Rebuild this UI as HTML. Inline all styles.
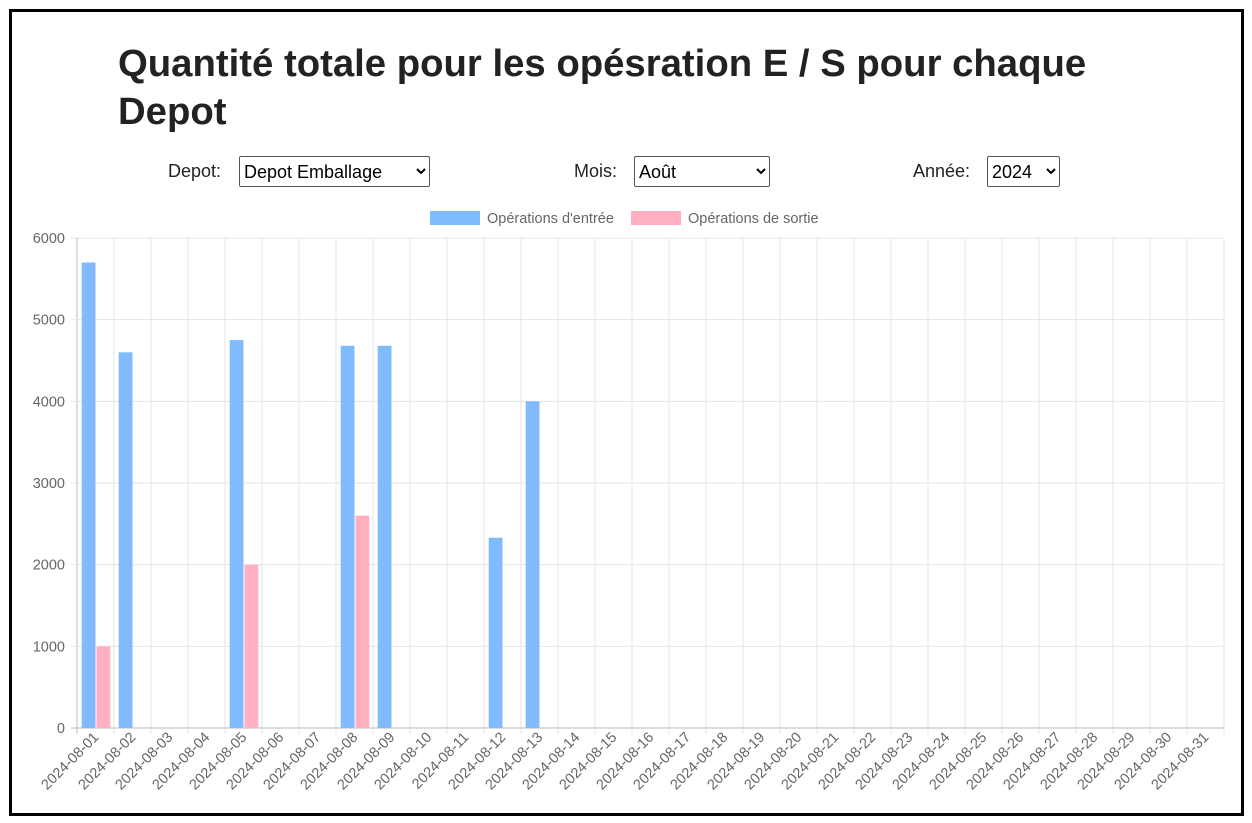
<!DOCTYPE html>
<html><head><meta charset="utf-8"><style>
body{margin:0;width:1252px;height:823px;background:#fff;font-family:"Liberation Sans",sans-serif;overflow:hidden}
#frame{position:absolute;left:9px;top:9px;width:1229px;height:801px;border:3px solid #000}
h1{position:absolute;left:118px;top:40px;margin:0;font-size:38.3px;line-height:48px;font-weight:bold;color:#222;width:1000px}
.lbl{position:absolute;font-size:18px;color:#222}
select{position:absolute;font-family:"Liberation Sans",sans-serif;font-size:18px;height:31px;border:1px solid #555;border-radius:2px;background:#fff;color:#000}
</style></head><body>
<div id="frame"></div>
<h1>Quantité totale pour les opésration E / S pour chaque Depot</h1>
<span class="lbl" style="left:168px;top:161px">Depot:</span>
<select style="left:239px;top:156px;width:191px"><option>Depot Emballage</option></select>
<span class="lbl" style="left:574px;top:161px">Mois:</span>
<select style="left:634px;top:156px;width:136px"><option>Août</option></select>
<span class="lbl" style="left:913px;top:161px">Année:</span>
<select style="left:987px;top:156px;width:73px"><option>2024</option></select>
<svg id="chart" width="1252" height="823" style="position:absolute;left:0;top:0"></svg>
<script>
const categories=[];for(let d=1;d<=31;d++)categories.push('2024-08-'+String(d).padStart(2,'0'));
const entreeValues=[5700,4600,0,0,4750,0,0,4680,4680,0,0,2330,4000,0,0,0,0,0,0,0,0,0,0,0,0,0,0,0,0,0,0];
const sortieValues=[1000,0,0,0,2000,0,0,2600,0,0,0,0,0,0,0,0,0,0,0,0,0,0,0,0,0,0,0,0,0,0,0];
const yTicks=[0,1000,2000,3000,4000,5000,6000];
const seriesNames=["Opérations d'entrée","Opérations de sortie"];
const svg=document.getElementById('chart');const NS='http://www.w3.org/2000/svg';
const X0=77,X1=1224,Y0=728,Y1=238,YMAX=6000;
const BLUE='#80bbff',PINK='#ffb1c1';
const cw=(X1-X0)/categories.length;
const y=v=>Y0-(v/YMAX)*(Y0-Y1);
function mk(t,a,p){const e=document.createElementNS(NS,t);for(const k in a)e.setAttribute(k,a[k]);(p||svg).appendChild(e);return e;}
for(let i=0;i<=categories.length;i++){const x=X0+i*cw;
const g=mk('line',{x1:x,x2:x,y1:Y1,y2:Y0+6,stroke:i==0?'#bbb':'#e5e5e5'});

}
yTicks.forEach(t=>{const l=mk('line',{x1:X0-6,x2:X1,y1:y(t),y2:y(t),stroke:t==0?'#bbb':'#e5e5e5'});


const tx=mk('text',{x:X0-12,y:y(t)+5,'text-anchor':'end','font-size':14.5,fill:'#666'});tx.textContent=t;

});
categories.forEach((c,i)=>{const cx=X0+(i+0.5)*cw;
const bw=cw*0.8/2;const bx=X0+i*cw+cw*0.1+1;
if(entreeValues[i]>0){const r=mk('rect',{x:bx,y:y(entreeValues[i]),width:bw-1,height:Y0-y(entreeValues[i]),fill:BLUE});

}
if(sortieValues[i]>0){const r=mk('rect',{x:bx+bw,y:y(sortieValues[i]),width:bw-1,height:Y0-y(sortieValues[i]),fill:PINK});

}
const t=mk('text',{x:cx+4,y:Y0+10,'text-anchor':'end','font-size':14.5,fill:'#666',transform:`rotate(-45 ${cx+4} ${Y0+10})`});t.textContent=c;

});
const lg=[[430,BLUE,487],[631,PINK,688]];
lg.forEach((l,i)=>{const r=mk('rect',{x:l[0],y:211,width:50,height:14,fill:l[1]});


const t=mk('text',{x:l[2],y:223,'font-size':14.5,fill:'#666'});t.textContent=seriesNames[i];

});
</script>
</body></html>
